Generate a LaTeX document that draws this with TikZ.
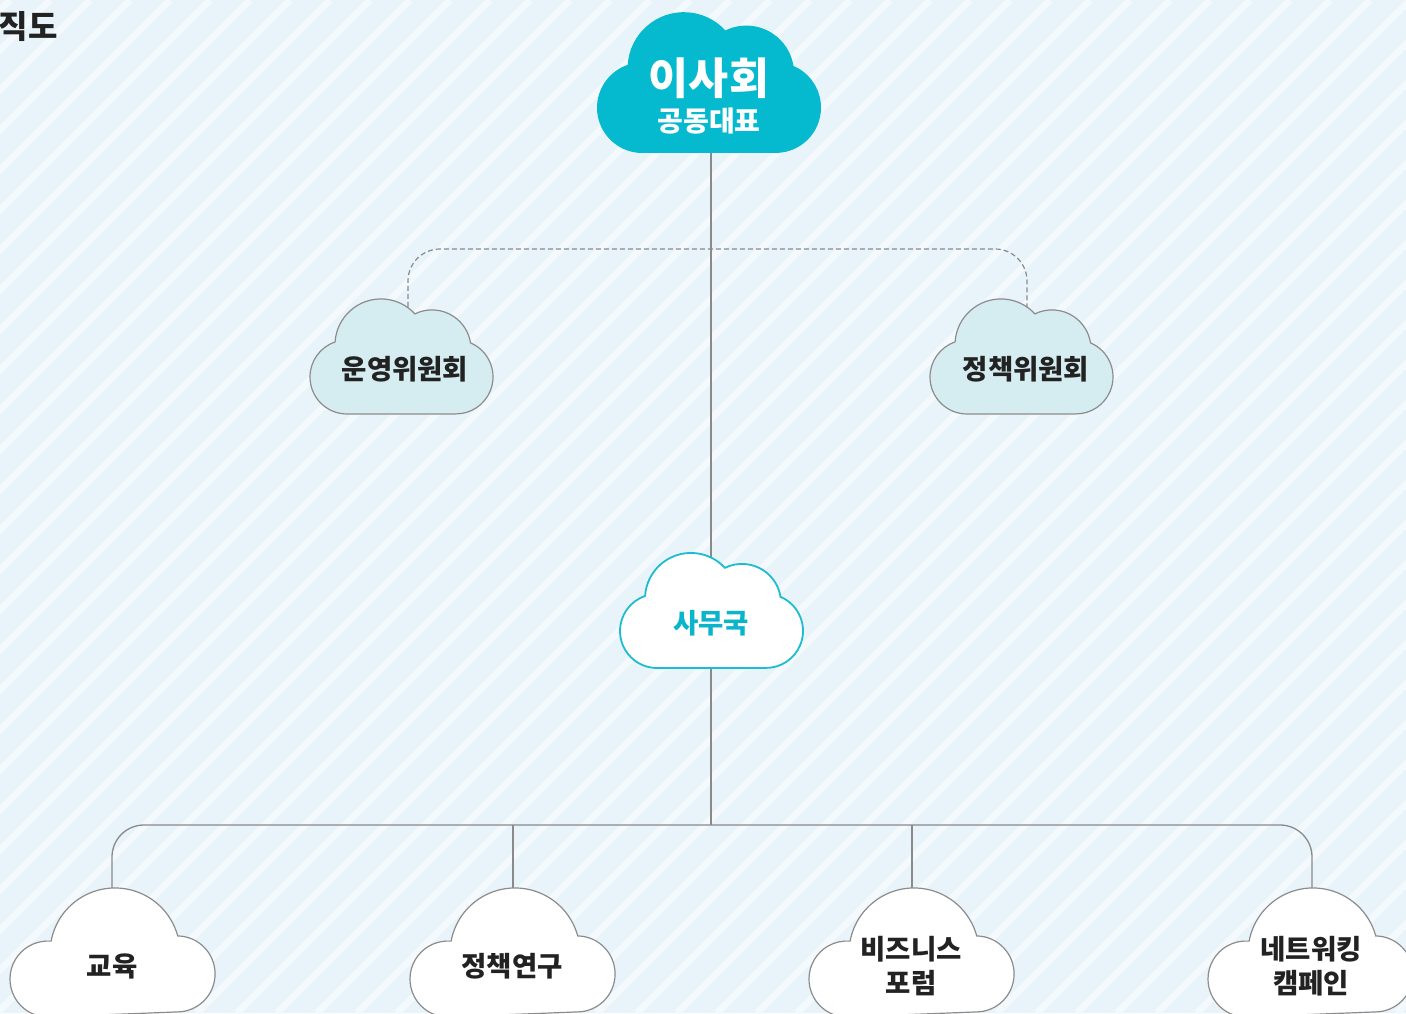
\documentclass[tikz,border=0pt]{standalone}
\usepackage{fontspec}
\newfontfamily\kr{Noto Sans CJK KR}
\definecolor{bgblue}{HTML}{E8F4F9}
\definecolor{stripecol}{HTML}{F3F9FC}
\definecolor{boardteal}{HTML}{05B9CF}
\definecolor{sidefill}{HTML}{D5ECF1}
\definecolor{cloudgray}{HTML}{8C8C8C}
\definecolor{linegray}{HTML}{8A8A8A}
\definecolor{officeteal}{HTML}{1DBCD1}
\definecolor{txtdark}{HTML}{222222}
\definecolor{officetxt}{HTML}{0AB4CB}
% four-lobe cloud: origin = bottom-left, width 183, height 115 (scale 1)
\newcommand{\orgcloudA}[4]{%
  \path[#4, shift={(#1,#2)}, scale=#3]
    (37,0) arc[start angle=270, end angle=108.8, radius=37]
    arc[start angle=176.3, end angle=42.5, radius=46]
    arc[start angle=116, end angle=8.9, radius=39]
    arc[start angle=66.9, end angle=-90, radius=37] -- cycle;}
% three-lobe cloud: origin = bottom-left, width 205, height 131
\newcommand{\orgcloudB}[3]{%
  \path[#3, shift={(#1,#2)}]
    (38,2) arc[start angle=270, end angle=85.3, radius=38]
    arc[start angle=169.5, end angle=15.2, radius=65]
    arc[start angle=89, end angle=-90, radius=38] -- cycle;}
\tikzset{
  lbl/.style={font=\kr\bfseries\fontsize{27.5}{34}\selectfont, text=txtdark, inner sep=0pt, align=center},
  conn/.style={draw=linegray, line width=1.3},
  dconn/.style={draw=linegray, line width=1.2, dash pattern=on 5 off 3},
  graycloud/.style={fill=white, draw=cloudgray, line width=1.2},
  sidecloud/.style={fill=sidefill, draw=cloudgray, line width=1.2},
}
\begin{document}
\begin{tikzpicture}[x=1pt,y=1pt]
\useasboundingbox (0,0) rectangle (1406,1013);
\begin{scope}
  \clip (0,0) rectangle (1406,1013);
  \fill[bgblue] (0,0) rectangle (1406,1013);
  \foreach \i in {-1043,-1003,...,1437}
    \draw[stripecol, line width=7] (\i,0) -- ++(1013,1013);
\end{scope}
% anchor coordinates
\coordinate (board-bot) at (711,875);
\coordinate (office-top) at (711,420);
\coordinate (office-bot) at (711,360);
\coordinate (op-top) at (408,690);
\coordinate (pc-top) at (1027,690);
\coordinate (dbus) at (711,764);
\coordinate (bbus) at (711,188);
\coordinate (edu-top) at (112,100);
\coordinate (res-top) at (513,100);
\coordinate (biz-top) at (912,100);
\coordinate (net-top) at (1312,100);
% connectors
\draw[conn] (board-bot) -- (office-top);
\draw[dconn, rounded corners=32] (op-top) |- (dbus) -| (pc-top);
\draw[conn] (office-bot) -- (bbus);
\draw[conn, rounded corners=32] (edu-top) |- (bbus) -| (net-top);
\draw[conn] (res-top) -- (res-top |- bbus);
\draw[conn] (biz-top) -- (biz-top |- bbus);
% clouds
\orgcloudA{597}{860}{1.224}{fill=boardteal}
\orgcloudA{310}{599}{1}{sidecloud}
\orgcloudA{930}{599}{1}{sidecloud}
\orgcloudA{620}{345}{1}{fill=white, draw=officeteal, line width=1.8}
\orgcloudB{10}{-6}{graycloud}
\orgcloudB{410}{-6}{graycloud}
\orgcloudB{809}{-6}{graycloud}
\orgcloudB{1208}{-6}{graycloud}
% texts
\node[lbl, anchor=east, font=\kr\bfseries\fontsize{32}{36}\selectfont] (title) at (58,986) {직도};
\node[lbl, text=white, font=\kr\bfseries\fontsize{43.5}{46}\selectfont] (board) at (709,935) {이사회};
\node[lbl, text=white, font=\kr\bfseries\fontsize{28}{32}\selectfont] (boardsub) at (709,892) {공동대표};
\node[lbl] (op) at (405,644) {운영위원회};
\node[lbl] (pc) at (1026,644) {정책위원회};
\node[lbl, text=officetxt] (office) at (711,390) {사무국};
\node[lbl] (edu) at (112,47) {교육};
\node[lbl] (res) at (512,47) {정책연구};
\node[lbl] (biz) at (911,47) {비즈니스\\포럼};
\node[lbl] (net) at (1311,47) {네트워킹\\캠페인};
\end{tikzpicture}
\end{document}
